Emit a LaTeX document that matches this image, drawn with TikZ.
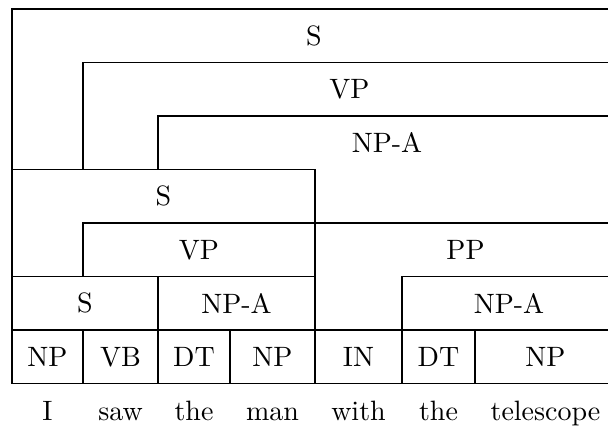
\documentclass[tikz,border=0pt]{standalone}
\usepackage{fontspec}
% the 10pt design of Latin Modern, set large
\newfontfamily\tenrm[Extension=.otf]{lmroman10-regular}
\begin{document}
\begin{tikzpicture}[x=1pt,y=-1pt,
  rule/.style={line width=1.1pt,line cap=rect},
  lab/.style={inner sep=0pt,font=\tenrm\fontsize{28}{30}\selectfont},
  word/.style={lab,anchor=base}]
\useasboundingbox (0,0) rectangle (608,427);
\clip (0,0) rectangle (608,427);
% right edge of the chart lies just past the page
\def\R{616}
% horizontal rules
\draw[rule] (12,9) -- (\R,9);
\draw[rule] (83,62.5) -- (\R,62.5);
\draw[rule] (158,116) -- (\R,116);
\draw[rule] (12,169.5) -- (315,169.5);
\draw[rule] (83,223) -- (\R,223);
\draw[rule] (12,276.5) -- (315,276.5);
\draw[rule] (402,276.5) -- (\R,276.5);
\draw[rule] (12,330) -- (\R,330);
\draw[rule] (12,383.5) -- (\R,383.5);
% vertical rules
\draw[rule] (12,9) -- (12,383.5);
\draw[rule] (83,62.5) -- (83,169.5);
\draw[rule] (83,223) -- (83,276.5);
\draw[rule] (83,330) -- (83,383.5);
\draw[rule] (158,116) -- (158,169.5);
\draw[rule] (158,276.5) -- (158,383.5);
\draw[rule] (230,330) -- (230,383.5);
\draw[rule] (315,169.5) -- (315,383.5);
\draw[rule] (402,276.5) -- (402,383.5);
\draw[rule] (475,330) -- (475,383.5);
% constituent labels
\node[lab] (s1)  at (314,35.75)  {S};
\node[lab] (vp1) at (349.5,89.25) {VP};
\node[lab] (np1) at (387,142.75) {NP-A};
\node[lab] (s2)  at (163.5,196.25) {S};
\node[lab] (vp2) at (199,249.75) {VP};
\node[lab] (pp)  at (465.5,249.75) {PP};
\node[lab] (s3)  at (85,303.25) {S};
\node[lab] (np2) at (236.5,303.25) {NP-A};
\node[lab] (np3) at (509,303.25) {NP-A};
% part-of-speech row
\node[lab] (t1) at (47.5,356.75) {NP};
\node[lab] (t2) at (120.5,356.75) {VB};
\node[lab] (t3) at (194,356.75) {DT};
\node[lab] (t4) at (272.5,356.75) {NP};
\node[lab] (t5) at (358.5,356.75) {IN};
\node[lab] (t6) at (438.5,356.75) {DT};
\node[lab] (t7) at (545.5,356.75) {NP};
% words
\node[word] (w1) at (47.5,421) {I};
\node[word] (w2) at (120.5,421) {saw};
\node[word] (w3) at (194,421) {the};
\node[word] (w4) at (272.5,421) {man};
\node[word] (w5) at (358.5,421) {with};
\node[word] (w6) at (438.5,421) {the};
\node[word] (w7) at (545.5,421) {telescope};
\end{tikzpicture}
\end{document}
